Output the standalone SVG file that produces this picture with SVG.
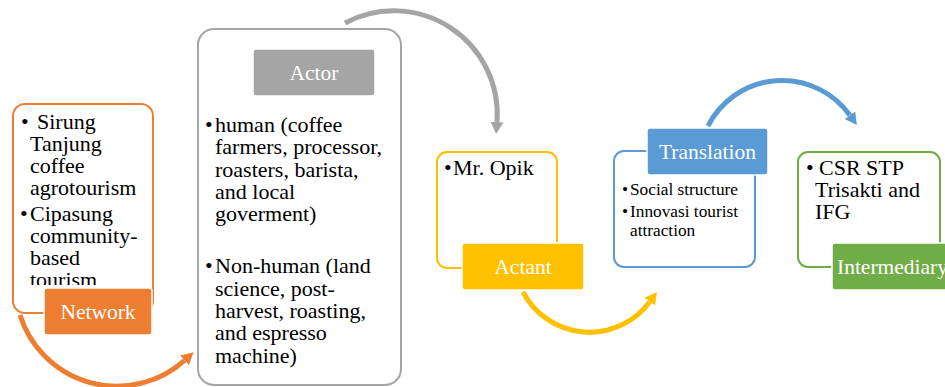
<svg xmlns="http://www.w3.org/2000/svg" width="945" height="387" viewBox="0 0 945 387">
<style>
  .t { font-family: "Liberation Serif", "Times New Roman", serif; font-size: 22px; fill: #000; }
  .s { font-family: "Liberation Serif", "Times New Roman", serif; font-size: 17.3px; fill: #000; }
  .lt { font-family: "Liberation Serif", "Times New Roman", serif; font-size: 21.5px; fill: #fff; text-anchor: middle; }
  .box { fill: #fff; stroke-width: 2; }
  .lab { stroke: #fff; stroke-width: 1.5; }
  .arc { fill: none; stroke-width: 5; }
</style>
<defs>
  <marker id="mo" markerUnits="userSpaceOnUse" markerWidth="14" markerHeight="14" refX="0" refY="7" orient="auto" viewBox="0 0 14 14"><path d="M0,0.5 L12,7 L0,13.5 z" fill="#ed7d31"/></marker>
  <marker id="mg" markerUnits="userSpaceOnUse" markerWidth="14" markerHeight="14" refX="0" refY="7" orient="auto" viewBox="0 0 14 14"><path d="M0,0.5 L12,7 L0,13.5 z" fill="#a5a5a5"/></marker>
  <marker id="my" markerUnits="userSpaceOnUse" markerWidth="14" markerHeight="14" refX="0" refY="7" orient="auto" viewBox="0 0 14 14"><path d="M0,0.5 L12,7 L0,13.5 z" fill="#ffc000"/></marker>
  <marker id="mb" markerUnits="userSpaceOnUse" markerWidth="14" markerHeight="14" refX="0" refY="7" orient="auto" viewBox="0 0 14 14"><path d="M0,0.5 L12,7 L0,13.5 z" fill="#5b9bd5"/></marker>
  <clipPath id="clipNet"><rect x="13" y="104" width="141" height="181"/></clipPath>
</defs>

<g id="connectors">
  <path class="arc" stroke="#ed7d31" d="M20,315 A101.5,101.5 0 0 0 184.6,360.3" marker-end="url(#mo)"/>
  <path class="arc" stroke="#a5a5a5" d="M345,23 A103.5,103.5 0 0 1 497,122" marker-end="url(#mg)"/>
  <path class="arc" stroke="#ffc000" d="M523,292 A75,75 0 0 0 649.8,301.7" marker-end="url(#my)"/>
  <path class="arc" stroke="#5b9bd5" d="M708,126 A83.2,83.2 0 0 1 849.9,115.3" marker-end="url(#mb)"/>
</g>

<g id="network">
  <rect class="box" x="13" y="104" width="140" height="209" rx="12" stroke="#ed7d31"/>
  <g clip-path="url(#clipNet)">
    <text class="t" x="21" y="129">•</text>
    <text class="t" x="37" y="129">Sirung</text>
    <text class="t" x="30" y="151">Tanjung</text>
    <text class="t" x="30" y="173">coffee</text>
    <text class="t" x="30" y="195">agrotourism</text>
    <text class="t" x="20" y="221">•</text>
    <text class="t" x="30" y="221">Cipasung</text>
    <text class="t" x="30" y="243">community-</text>
    <text class="t" x="30" y="265">based</text>
    <text class="t" x="30" y="287">tourism</text>
  </g>
  <rect class="lab" x="44" y="288" width="108" height="47" rx="3" fill="#ed7d31"/>
  <text class="lt" x="98" y="319">Network</text>
</g>

<g id="actor">
  <rect class="box" x="198" y="29" width="203" height="356" rx="16" stroke="#a5a5a5"/>
  <rect class="lab" x="253" y="49" width="122" height="47" rx="3" fill="#a5a5a5"/>
  <text class="lt" x="314" y="80">Actor</text>
  <text class="t" x="205" y="132">•</text>
  <text class="t" x="215" y="132">human (coffee</text>
  <text class="t" x="215" y="154">farmers, processor,</text>
  <text class="t" x="215" y="177">roasters, barista,</text>
  <text class="t" x="215" y="199">and local</text>
  <text class="t" x="215" y="221">goverment)</text>
  <text class="t" x="205" y="273">•</text>
  <text class="t" x="215" y="273">Non-human (land</text>
  <text class="t" x="215" y="296">science, post-</text>
  <text class="t" x="215" y="318">harvest, roasting,</text>
  <text class="t" x="215" y="340">and espresso</text>
  <text class="t" x="215" y="363">machine)</text>
</g>

<g id="actant">
  <rect class="box" x="437" y="152" width="120" height="116" rx="10" stroke="#ffc000"/>
  <text class="t" x="444" y="175">•</text>
  <text class="t" x="453" y="175">Mr. Opik</text>
  <rect class="lab" x="462" y="243" width="122" height="47" rx="3" fill="#ffc000"/>
  <text class="lt" x="523" y="274">Actant</text>
</g>

<g id="translation">
  <rect class="box" x="614" y="151" width="141" height="116" rx="10" stroke="#5b9bd5"/>
  <text class="s" x="622" y="195">•</text>
  <text class="s" x="630" y="195">Social structure</text>
  <text class="s" x="622" y="217">•</text>
  <text class="s" x="630" y="217">Innovasi tourist</text>
  <text class="s" x="630" y="236">attraction</text>
  <rect class="lab" x="647" y="128" width="121" height="47" rx="3" fill="#5b9bd5"/>
  <text class="lt" x="707.5" y="159">Translation</text>
</g>

<g id="intermediary">
  <rect class="box" x="798" y="152" width="142" height="115" rx="10" stroke="#70ad47"/>
  <text class="t" x="806" y="175">•</text>
  <text class="t" x="819" y="175">CSR STP</text>
  <text class="t" x="815" y="197">Trisakti and</text>
  <text class="t" x="815" y="219">IFG</text>
  <rect class="lab" x="832" y="243" width="122" height="47" rx="3" fill="#70ad47"/>
  <text class="lt" x="892.5" y="274">Intermediary</text>
</g>
</svg>
